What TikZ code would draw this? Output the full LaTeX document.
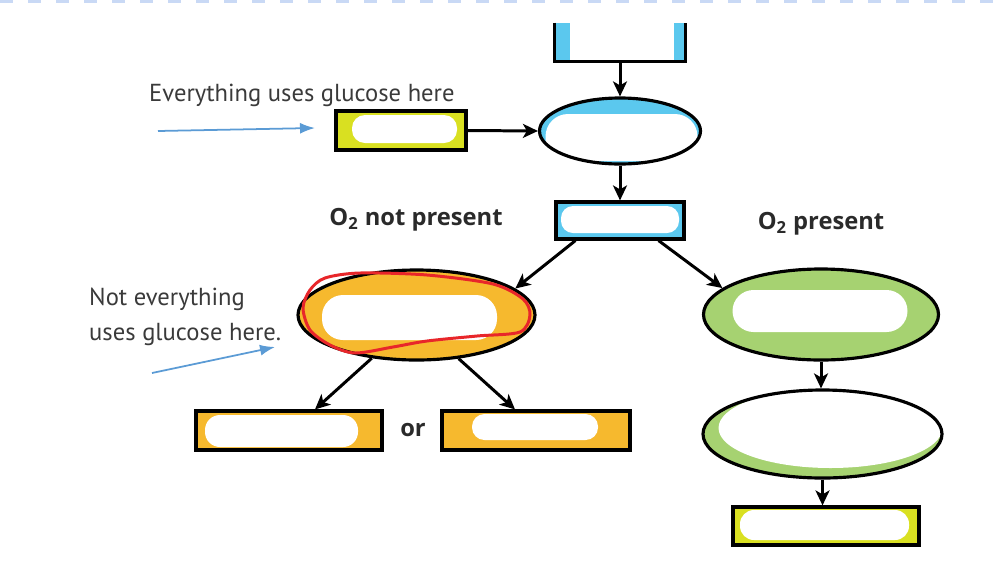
\documentclass[tikz,border=0pt]{standalone}
\usepackage{fontspec}
\usetikzlibrary{shapes.geometric}
\usetikzlibrary{arrows.meta}
\newfontfamily\notefont{PT Sans}
\newfontfamily\headfont{Open Sans}
\definecolor{cellblue}{HTML}{5BC8EE}
\definecolor{cellyellow}{HTML}{D9E021}
\definecolor{cellorange}{HTML}{F6B92E}
\definecolor{cellgreen}{HTML}{A6D271}
\definecolor{noteblue}{HTML}{5B9BD5}
\definecolor{notegray}{HTML}{3A3A3A}
\definecolor{headgray}{HTML}{2A2A2A}
\definecolor{topdash}{HTML}{C9D9F5}
\definecolor{markred}{HTML}{E8262A}

\begin{document}
\begin{tikzpicture}[x=0.2mm, y=-0.2mm,
		box/.style={draw, line width=1.8pt, inner sep=0pt},
		oval/.style={ellipse, draw, line width=1.8pt, inner sep=0pt},
		blob/.style n args={5}{path picture={\fill[white, rounded corners=#5]
			([xshift=#1, yshift=#2]path picture bounding box.south west) rectangle
			([xshift=-#3, yshift=-#4]path picture bounding box.north east);}},
		arr/.style={-{Stealth[length=3mm,width=2.8mm,inset=0.8mm]}, line width=1.7pt},
		notetext/.style={font=\notefont\fontsize{14}{20}\selectfont, text=notegray},
		notearr/.style={-{Latex[length=3mm,width=2.2mm]}, line width=1pt, draw=noteblue},
		headtext/.style={font=\headfont\bfseries\fontsize{13.5}{16}\selectfont, text=headgray}]
	\useasboundingbox (0,0) rectangle (999,572);
	% dashed edge at the top
	\coordinate (dashL) at (0,1);
	\coordinate (dashR) at (999,1);
	\draw[topdash, line width=1.8pt, dash pattern=on 0.26cm off 0.3cm] (dashL) -- (dashR);

	% centre column
	\node[fill=cellblue, inner sep=0pt, minimum width=2.6cm, minimum height=0.76cm,
		blob={0.3cm}{0cm}{0.22cm}{0cm}{0cm}] (source) at (620,42) {};
	\draw[line width=1.8pt] (source.north west) -- (source.south west) -- (source.south east) -- (source.north east);
	\node[oval, fill=cellblue, minimum width=3.22cm, minimum height=1.32cm,
		blob={0.12cm}{0.06cm}{0.06cm}{0.32cm}{0.45cm}] (glyc) at (620,131) {};
	\node[box, fill=cellyellow, minimum width=2.6cm, minimum height=0.78cm,
		blob={0.32cm}{0.14cm}{0.18cm}{0.08cm}{0.26cm}] (fuel) at (401,130.5) {};
	\node[box, fill=cellblue, minimum width=2.56cm, minimum height=0.74cm,
		blob={0.1cm}{0.12cm}{0.1cm}{0.08cm}{0.24cm}] (pyr) at (620,220.5) {};

	% without oxygen
	\node[oval, fill=cellorange, minimum width=4.74cm, minimum height=1.8cm,
		blob={0.48cm}{0.4cm}{0.76cm}{0.5cm}{0.42cm}] (anaer) at (416.5,315) {};
	\node[box, fill=cellorange, minimum width=3.72cm, minimum height=0.78cm,
		blob={0.18cm}{0.06cm}{0.48cm}{0.08cm}{0.3cm}] (prodA) at (289,430.5) {};
	\node[box, fill=cellorange, minimum width=3.76cm, minimum height=0.78cm,
		blob={0.6cm}{0.2cm}{0.64cm}{0.06cm}{0.25cm}] (prodB) at (536,430.5) {};
	\node[headtext] (or) at (413,430) {or};
	\draw[markred, line width=1.7pt] plot[smooth cycle] coordinates {(325,278) (360,273) (427,275) (493,284) (523,299) (530,315) (520,332) (477,336) (427,341) (393,347) (355,353) (330,345) (310,330) (303,308) (310,290)};

	% with oxygen
	\node[oval, fill=cellgreen, minimum width=4.7cm, minimum height=1.82cm,
		blob={0.58cm}{0.56cm}{0.62cm}{0.42cm}{0.42cm}] (aer1) at (821,314.5) {};
	\node[oval, fill=cellgreen, minimum width=4.78cm, minimum height=1.76cm,
		path picture={\fill[white] ([xshift=0.16cm, yshift=0.12cm]path picture bounding box.center) ellipse (2.24cm and 0.8cm);}] (aer2) at (822.5,434) {};
	\node[box, fill=cellyellow, minimum width=3.72cm, minimum height=0.76cm,
		blob={0.14cm}{0.1cm}{0.2cm}{0.06cm}{0.28cm}] (final) at (826,526) {};

	\node[headtext] (noO2) at (416,220) {O\textsubscript{2} not present};
	\node[headtext] (withO2) at (821,224) {O\textsubscript{2} present};

	\draw[arr] (source.south) -- (glyc.north);
	\draw[arr] (fuel.east) -- (glyc.west);
	\draw[arr] (glyc.south) -- (pyr.north);
	\draw[arr] ([xshift=0.42cm]pyr.south west) -- (anaer.15);
	\draw[arr] ([xshift=-0.54cm]pyr.south east) -- (aer1.165);
	\draw[arr] (anaer.-136) -- ([xshift=0.52cm]prodA.north);
	\draw[arr] (anaer.-46) -- ([xshift=-0.42cm]prodB.north);
	\draw[arr] (aer1.south) -- (aer1.south |- aer2.north);
	\draw[arr] (aer2.south) -- (aer2.south |- final.north);

	% handwritten notes
	\node[notetext, anchor=west] (note1) at (143,95) {Everything uses glucose here};
	\node[notetext, anchor=west, align=left] (note2) at (83,317) {Not everything\\uses glucose here.};
	\coordinate (n1tail) at (158,131);
	\coordinate (n1tip) at (315,128);
	\draw[notearr] (n1tail) -- (n1tip);
	\coordinate (n2tail) at (152,373);
	\coordinate (n2tip) at (275,347);
	\draw[notearr] (n2tail) -- (n2tip);
\end{tikzpicture}
\end{document}
